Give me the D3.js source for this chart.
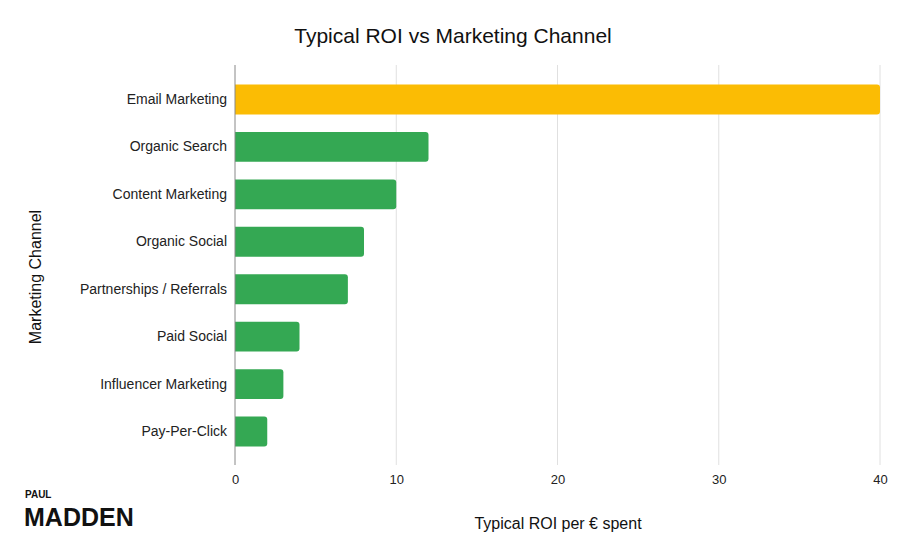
<!DOCTYPE html>
<html><head><meta charset="utf-8">
<script src="https://cdn.jsdelivr.net/npm/d3@7"></script>
<style>body{margin:0;background:#fff;font-family:Arial,"Liberation Sans",sans-serif}</style>
</head><body><svg id="c" width="904" height="556"></svg>
<script>
const categories=["Email Marketing","Organic Search","Content Marketing","Organic Social","Partnerships / Referrals","Paid Social","Influencer Marketing","Pay-Per-Click"];
const values=[40,12,10,8,7,4,3,2];
const colors=["#FBBC04","#34A853","#34A853","#34A853","#34A853","#34A853","#34A853","#34A853"];
const xTicks=[0,10,20,30,40];
const svg=d3.select("#c");
const m={l:235,r:880,t:75,b:456};
const x=d3.scaleLinear().domain([0,40]).range([m.l,m.r]);
const y=d3.scaleBand().domain(categories).range([m.t,m.b]).paddingInner(0.37).paddingOuter(0.2);
svg.append("rect").attr("width",904).attr("height",556).attr("fill","#fff");
svg.selectAll(".g").data(xTicks.slice(1)).join("line").attr("x1",d=>x(d)).attr("x2",d=>x(d)).attr("y1",65).attr("y2",465).attr("stroke","#e0e0e0");
const xa=svg.append("g").attr("transform","translate(0,465)").call(d3.axisBottom(x).tickValues(xTicks).tickSize(0).tickPadding(10));
xa.select(".domain").remove();
xa.selectAll("text").attr("font-size",13).attr("fill","#222").attr("font-family","Arial,Liberation Sans");
const r=3;
svg.selectAll(".bar").data(values).join("path").attr("fill",(d,i)=>colors[i]).attr("d",(d,i)=>{
 const x0=x(0),x1=x(d),y0=y(categories[i]),h=y.bandwidth();
 return `M${x0},${y0}H${x1-r}Q${x1},${y0} ${x1},${y0+r}V${y0+h-r}Q${x1},${y0+h} ${x1-r},${y0+h}H${x0}Z`;});
svg.append("line").attr("x1",x(0)).attr("x2",x(0)).attr("y1",65).attr("y2",465).attr("stroke","#888");
const ya=svg.append("g").attr("transform",`translate(${m.l},0)`).call(d3.axisLeft(y).tickSize(0).tickPadding(8));
ya.select(".domain").remove();
ya.selectAll("text").attr("font-size",14).attr("fill","#222").attr("font-family","Arial,Liberation Sans");
svg.append("text").attr("x",453).attr("y",43).attr("text-anchor","middle").attr("font-size",21).attr("fill","#111").text("Typical ROI vs Marketing Channel");
svg.append("text").attr("x",558).attr("y",529).attr("text-anchor","middle").attr("font-size",16).attr("fill","#111").text("Typical ROI per € spent");
svg.append("text").attr("transform","translate(41,277) rotate(-90)").attr("text-anchor","middle").attr("font-size",16).attr("fill","#111").text("Marketing Channel");
svg.append("text").attr("x",25).attr("y",498).attr("font-size",10).attr("font-weight","bold").attr("fill","#111").text("PAUL");
svg.append("text").attr("x",24).attr("y",526).attr("font-size",25).attr("font-weight","bold").attr("fill","#111").text("MADDEN");
</script></body></html>
